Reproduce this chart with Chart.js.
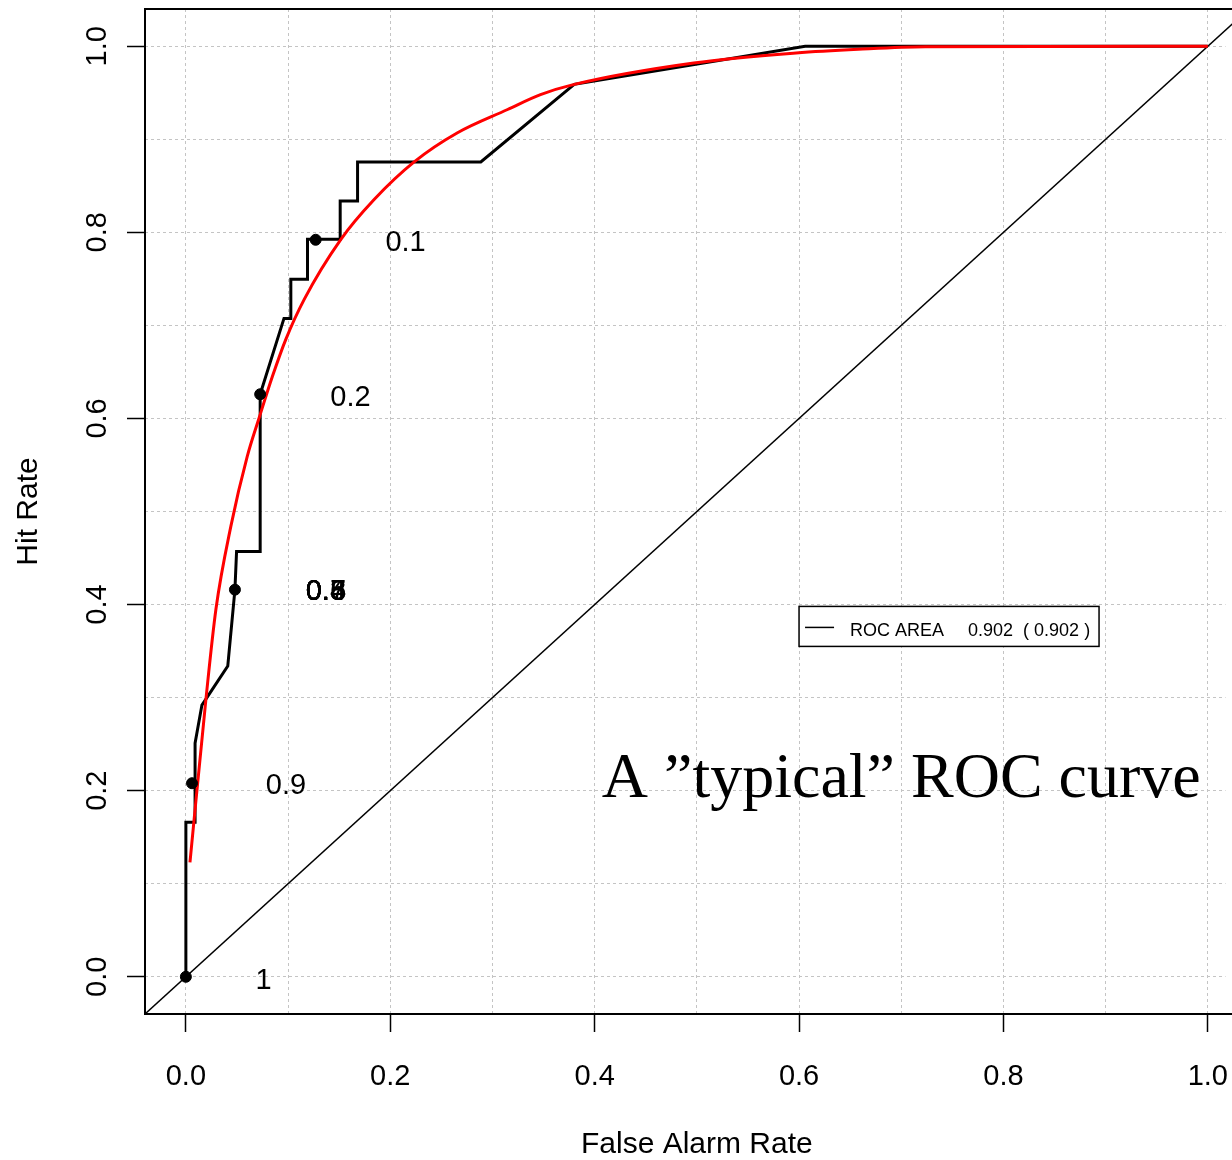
<!DOCTYPE html>
<html>
<head>
<meta charset="utf-8">
<script src="https://cdn.jsdelivr.net/npm/chart.js@4.4.1/dist/chart.umd.min.js"></script>
<style>
  html, body { margin: 0; padding: 0; background: #fff; overflow: hidden; }
  #wrap { width: 1232px; height: 1160px; position: relative; }
</style>
</head>
<body>
<div id="wrap"><canvas id="roc"></canvas></div>
<script>
// empirical ROC (black step line)
const rocX = [0, 0, 0.009, 0.009, 0.0157, 0.041, 0.048, 0.0496, 0.0727, 0.0727, 0.096, 0.1027, 0.1027,
  0.119, 0.119, 0.151, 0.151, 0.168, 0.168, 0.2886, 0.38, 0.606, 1.0];
const rocY = [0, 0.166, 0.166, 0.251, 0.292, 0.334, 0.416, 0.457, 0.457, 0.626, 0.7075, 0.7075, 0.7495,
  0.7495, 0.7925, 0.7925, 0.8337, 0.8337, 0.8757, 0.8757, 0.959, 1.0, 1.0];

// fitted ROC (red curve)
const fitX = [0.004, 0.0196, 0.0294, 0.044, 0.060, 0.0718, 0.0848, 0.0978, 0.1158, 0.1517, 0.184,
  0.2234, 0.2658, 0.3148, 0.347, 0.38, 0.497, 0.597, 0.658, 0.7235, 1.0];
const fitY = [0.123, 0.298, 0.395, 0.484, 0.559, 0.601, 0.6455, 0.685, 0.728, 0.7925, 0.835,
  0.8757, 0.907, 0.932, 0.948, 0.959, 0.982, 0.9928, 0.9968, 0.9995, 1.0];

// thresholds marked on the empirical curve
const pointX = [0, 0.006, 0.048, 0.0727, 0.127];
const pointY = [0, 0.208, 0.416, 0.626, 0.792];

// threshold labels (several drawn on top of each other, as in the original)
const labelText = ["1", "0.9", "0.3", "0.4", "0.5", "0.6", "0.7", "0.8", "0.2", "0.1"];
const labelX = [0.076, 0.098, 0.137, 0.137, 0.137, 0.137, 0.137, 0.137, 0.161, 0.215];
const labelY = [-0.004, 0.205, 0.413, 0.413, 0.413, 0.413, 0.413, 0.413, 0.6215, 0.789];

// no-skill diagonal
const diagX = [-0.04, 1.04];
const diagY = [-0.04, 1.04];

const gridValues = [0, 0.1, 0.2, 0.3, 0.4, 0.5, 0.6, 0.7, 0.8, 0.9, 1.0];
const tickValues = [0, 0.2, 0.4, 0.6, 0.8, 1.0];
const tickLabels = ["0.0", "0.2", "0.4", "0.6", "0.8", "1.0"];

const xTitle = "False Alarm Rate";
const yTitle = "Hit Rate";
const legendName = "ROC AREA";
const legendValue = "0.902  ( 0.902 )";
const legendAt = [0.6, 0.398];
const noteText = "A \u201dtypical\u201d ROC curve";
const noteAt = [0.407, 0.1935];

const sans = "'Liberation Sans', Arial, Helvetica, sans-serif";
const serif = "'Liberation Serif', 'Times New Roman', Times, serif";

const zip = (xs, ys) => xs.map((v, i) => ({ x: v, y: ys[i] }));
const majorIndex = v => tickValues.findIndex(t => Math.abs(t - v) < 1e-9);

const rPlot = {
  id: "rPlot",
  afterDatasetsDraw(chart) {
    const { ctx, chartArea: a, scales: { x, y } } = chart;
    ctx.save();

    // box around the plot region
    ctx.strokeStyle = "#000";
    ctx.lineWidth = 2;
    ctx.beginPath();
    ctx.moveTo(a.right + 10, a.top);
    ctx.lineTo(a.left, a.top);
    ctx.lineTo(a.left, a.bottom);
    ctx.lineTo(a.right + 10, a.bottom);
    ctx.stroke();

    // y tick labels, rotated like R's las=0
    ctx.fillStyle = "#000";
    ctx.font = "29px " + sans;
    ctx.textAlign = "center";
    ctx.textBaseline = "middle";
    tickValues.forEach((v, i) => {
      ctx.save();
      ctx.translate(a.left - 47, y.getPixelForValue(v));
      ctx.rotate(-Math.PI / 2);
      ctx.fillText(tickLabels[i], 0, 0);
      ctx.restore();
    });

    // threshold labels
    labelText.forEach((t, i) => {
      ctx.fillText(t, x.getPixelForValue(labelX[i]), y.getPixelForValue(labelY[i]));
    });

    // x axis title, centred on the full (clipped) plot region
    ctx.font = "30px " + sans;
    ctx.fillText(xTitle, x.getPixelForValue(0.5), a.bottom + 131);

    // legend box
    const lx = x.getPixelForValue(legendAt[0]);
    const ly = y.getPixelForValue(legendAt[1]);
    ctx.fillStyle = "#fff";
    ctx.fillRect(lx, ly, 300, 40);
    ctx.lineWidth = 1.5;
    ctx.strokeRect(lx, ly, 300, 40);
    ctx.beginPath();
    ctx.moveTo(lx + 6, ly + 21);
    ctx.lineTo(lx + 35, ly + 21);
    ctx.stroke();
    ctx.fillStyle = "#000";
    ctx.font = "18px " + sans;
    ctx.textAlign = "left";
    ctx.fillText(legendName, lx + 51, ly + 25);
    ctx.fillText(legendValue, lx + 169, ly + 25);

    // annotation
    ctx.font = "64px " + serif;
    ctx.textBaseline = "alphabetic";
    ctx.fillText(noteText, x.getPixelForValue(noteAt[0]), y.getPixelForValue(noteAt[1]));

    ctx.restore();
  }
};

new Chart(document.getElementById("roc"), {
  type: "scatter",
  data: {
    datasets: [
      {
        data: zip(pointX, pointY),
        showLine: false,
        pointRadius: 5.5,
        pointBackgroundColor: "#000",
        pointBorderColor: "#000",
        order: 0
      },
      {
        data: zip(fitX, fitY),
        showLine: true,
        borderColor: "#ff0000",
        borderWidth: 3,
        pointRadius: 0,
        cubicInterpolationMode: "monotone",
        order: 1
      },
      {
        data: zip(rocX, rocY),
        showLine: true,
        borderColor: "#000",
        borderWidth: 3,
        pointRadius: 0,
        order: 2
      },
      {
        data: zip(diagX, diagY),
        showLine: true,
        borderColor: "#000",
        borderWidth: 1.5,
        pointRadius: 0,
        clip: { left: 0, top: 0, right: 12, bottom: 0 },
        order: 3
      }
    ]
  },
  options: {
    responsive: true,
    maintainAspectRatio: false,
    animation: false,
    layout: { padding: { top: 9, left: 0, right: 0, bottom: 0 } },
    plugins: {
      legend: { display: false },
      tooltip: { enabled: false }
    },
    scales: {
      x: {
        type: "linear",
        min: -0.04,
        max: 1.0173,
        afterBuildTicks: scale => { scale.ticks = gridValues.map(v => ({ value: v })); },
        afterFit: scale => {
          scale.height = 146;
          scale.paddingLeft = 0;
          scale.paddingRight = 0;
        },
        grid: {
          color: "#c4c4c4",
          lineWidth: 1,
          tickLength: 18,
          tickWidth: 1.5,
          tickColor: c => majorIndex(c.tick.value) >= 0 ? "#000" : "rgba(0,0,0,0)"
        },
        border: { display: false, dash: [3, 3] },
        ticks: {
          autoSkip: false,
          maxRotation: 0,
          padding: 28,
          color: "#000",
          font: { family: sans, size: 29 },
          callback: v => { const i = majorIndex(v); return i >= 0 ? tickLabels[i] : ""; }
        }
      },
      y: {
        type: "linear",
        min: -0.04,
        max: 1.04,
        afterBuildTicks: scale => { scale.ticks = gridValues.map(v => ({ value: v })); },
        afterFit: scale => {
          scale.width = 145;
          scale.paddingTop = 0;
          scale.paddingBottom = 0;
        },
        grid: {
          color: "#c4c4c4",
          lineWidth: 1,
          tickLength: 18,
          tickWidth: 1.5,
          tickColor: c => majorIndex(c.tick.value) >= 0 ? "#000" : "rgba(0,0,0,0)"
        },
        border: { display: false, dash: [3, 3] },
        ticks: { display: false },
        title: {
          display: true,
          text: yTitle,
          color: "#000",
          font: { family: sans, size: 30 },
          padding: { top: 11, bottom: 0 }
        }
      }
    }
  },
  plugins: [rPlot]
});
</script>
</body>
</html>
